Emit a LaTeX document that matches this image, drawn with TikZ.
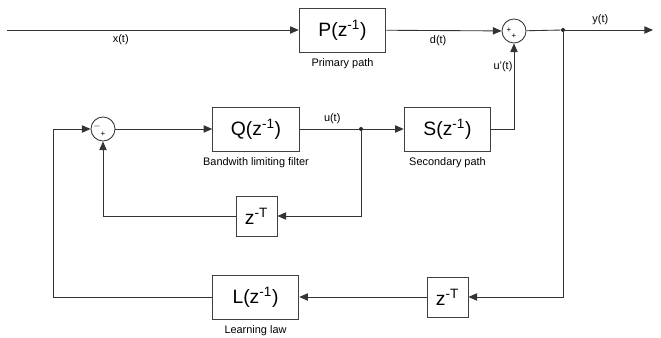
\documentclass[tikz,border=0pt]{standalone}
\usepackage{fontspec}
\setmainfont{Liberation Sans}
\usetikzlibrary{positioning, arrows.meta}

\begin{document}
\begin{tikzpicture}[x=0.75pt, y=-0.75pt, font=\fontsize{8.2}{10}\selectfont]
    % Styles
    \tikzstyle{block} = [rectangle, draw=black!75, fill=white, line width=0.65pt, minimum width=65pt, minimum height=33pt, inner sep=0pt, font=\fontsize{14.5}{16}\selectfont]
    \tikzstyle{delay} = [block, minimum width=30.75pt, minimum height=30pt]
    \tikzstyle{sum} = [circle, draw=black!80, line width=0.65pt, minimum size=18pt, inner sep=0pt]
    \tikzstyle{sign} = [inner sep=0pt, font=\fontsize{6}{7}\selectfont]
    \tikzstyle{dot} = [circle, fill=black!85, inner sep=0pt, minimum size=3pt]
    \tikzstyle{arrow} = [draw=black!80, line width=0.65pt, ->, >={Triangle[length=6.5pt,width=5.5pt]}]
    \tikzstyle{wire} = [draw=black!80, line width=0.65pt]

    \useasboundingbox (0,0) rectangle (661,338);

    % Nodes
    \coordinate (xin) at (7,30);
    \node [block] (P) at (342.5,30) {P(z\textsuperscript{-1})};
    \node [below=4.5pt of P, inner sep=0pt] (Pcap) {Primary path};
    \node [sum] (sumy) at (514,31) {};
    \node [sign] (sumyA) at (509,30) {+};
    \node [sign] (sumyB) at (514,36) {+};
    \node [dot] (ysplit) at (563,30) {};
    \coordinate (yout) at (653,30);

    % Secondary and filter branch
    \node [block] (S) at (447.5,129) {S(z\textsuperscript{-1})};
    \node [below=4.5pt of S, inner sep=0pt] (Scap) {Secondary path};
    \node [block] (Q) at (256,129) {Q(z\textsuperscript{-1})};
    \node [below=4.5pt of Q, inner sep=0pt] (Qcap) {Bandwith limiting filter};
    \node [dot] (usplit) at (361,129) {};
    \node [sum] (sume) at (103,129) {};
    \node [sign] (sumeA) at (97,127) {$-$};
    \node [sign] (sumeB) at (103,134) {+};
    \node [delay] (Dq) at (256.5,216) {z\textsuperscript{-T}};

    % Learning loop
    \node [block] (L) at (255.5,297) {L(z\textsuperscript{-1})};
    \node [below=4.5pt of L, inner sep=0pt] (Lcap) {Learning law};
    \node [delay] (Dy) at (447.5,297) {z\textsuperscript{-T}};
    \coordinate (fb) at (53,297);

    % Labels
    \node (ulab) at (503,67) {u'(t)};

    % Connections
    \draw [arrow] (xin) -- node[below, pos=0.39] {x(t)} (P);
    \draw [arrow] (P) -- node[below, pos=0.45] {d(t)} (sumy);
    \draw [wire] (sumy) -- (ysplit);
    \draw [arrow] (ysplit) -- node[above, pos=0.4] {y(t)} (yout);
    \draw [arrow] (S.east) -| (sumy.south);
    \draw [wire] (Q) -- node[above, pos=0.55] {u(t)} (usplit);
    \draw [arrow] (usplit) -- (S);
    \draw [arrow] (usplit) |- (Dq.east);
    \draw [arrow] (Dq.west) -| (sume.south);
    \draw [arrow] (sume) -- (Q);
    \draw [arrow] (ysplit) |- (Dy.east);
    \draw [arrow] (Dy) -- (L);
    \draw [arrow] (L.west) -- (fb) |- (sume.west);

\end{tikzpicture}
\end{document}
